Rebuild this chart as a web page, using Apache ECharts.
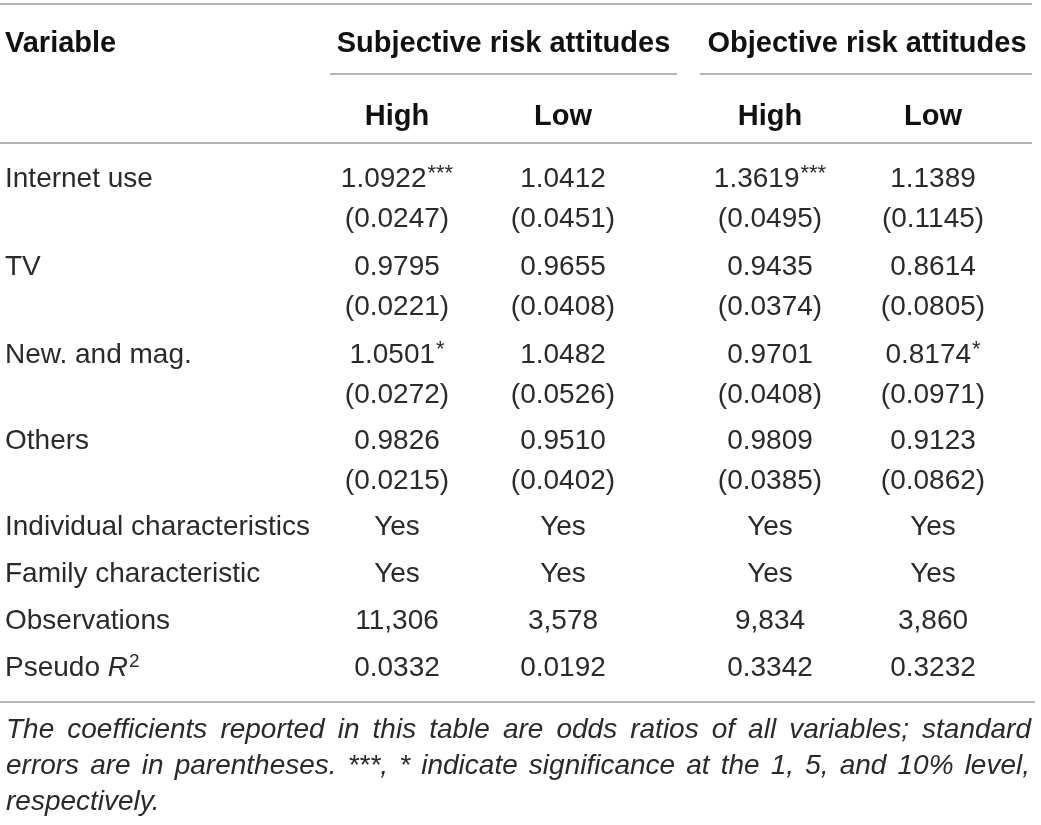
<!DOCTYPE html>
<html><head><meta charset="utf-8">
<script src="https://cdn.jsdelivr.net/npm/echarts@6/dist/echarts.min.js"></script>
<style>html,body{margin:0;padding:0;background:#fff}#c{width:1041px;height:825px}</style>
</head><body><div id="c"></div>
<script>
// ---------------- DATA ----------------
const headerVariable = 'Variable';
const groupTitles = ['Subjective risk attitudes', 'Objective risk attitudes'];
const subHeaders = ['High', 'Low', 'High', 'Low'];
const variables = ['Internet use', 'TV', 'New. and mag.', 'Others'];
const subjHighCoef = [1.0922, 0.9795, 1.0501, 0.9826];
const subjHighSE = [0.0247, 0.0221, 0.0272, 0.0215];
const subjHighStars = ['***', '', '*', ''];
const subjLowCoef = [1.0412, 0.9655, 1.0482, 0.9510];
const subjLowSE = [0.0451, 0.0408, 0.0526, 0.0402];
const subjLowStars = ['', '', '', ''];
const objHighCoef = [1.3619, 0.9435, 0.9701, 0.9809];
const objHighSE = [0.0495, 0.0374, 0.0408, 0.0385];
const objHighStars = ['***', '', '', ''];
const objLowCoef = [1.1389, 0.8614, 0.8174, 0.9123];
const objLowSE = [0.1145, 0.0805, 0.0971, 0.0862];
const objLowStars = ['', '', '*', ''];
const controlNames = ['Individual characteristics', 'Family characteristic'];
const controlIncluded = ['Yes', 'Yes', 'Yes', 'Yes'];
const observationsLabel = 'Observations';
const observations = [11306, 3578, 9834, 3860];
const pseudoR2Label = 'Pseudo';
const pseudoR2 = [0.0332, 0.0192, 0.3342, 0.3232];
const footnoteLine1 = 'The coefficients reported in this table are odds ratios of all variables; standard';
const footnoteLine2 = 'errors are in parentheses. ***, * indicate significance at the 1, 5, and 10% level,';
const footnoteLine3 = 'respectively.';

// ---------------- LAYOUT ----------------
const W = 1041, H = 825;
const FONT = '"Liberation Sans", Arial, Helvetica, sans-serif';
const labelX = 5;
const colX = [397, 563, 770, 933];
const groupX = [503.5, 867];
const groupLineSpan = [[330, 677], [700, 1032]];
const yTitle = 44, ySub = 117;
const yVars = [179, 267, 355, 441];
const seGap = 40;
const yControls = [527, 574];
const yObs = 621, yR2 = 668;
const ruleColor = '#b4b4b4';
const rules = [
  [0, 1032, 4], [groupLineSpan[0][0], groupLineSpan[0][1], 74], [groupLineSpan[1][0], groupLineSpan[1][1], 74],
  [0, 1032, 143], [0, 1035, 702]
];
const footY = [730, 766, 802];
const footX0 = 6, footX1 = [1031, 1030];
const TEXT = '#2a2a2a', BOLD = '#111';

// ---------------- BUILD CELLS ----------------
const cells = [];
function add(x, y, text, align) { cells.push({ value: [x, y], text: text, label: { align: align || 'center' } }); }

add(labelX, yTitle, '{b|' + headerVariable + '}', 'left');
groupTitles.forEach((t, i) => add(groupX[i], yTitle, '{b|' + t + '}'));
subHeaders.forEach((t, i) => add(colX[i], ySub, '{b|' + t + '}'));

const coefs = [subjHighCoef, subjLowCoef, objHighCoef, objLowCoef];
const ses = [subjHighSE, subjLowSE, objHighSE, objLowSE];
const stars = [subjHighStars, subjLowStars, objHighStars, objLowStars];
variables.forEach((v, r) => {
  add(labelX, yVars[r], '{n|' + v + '}', 'left');
  for (let c = 0; c < 4; c++) {
    const s = stars[c][r];
    add(colX[c], yVars[r], '{n|' + coefs[c][r].toFixed(4) + '}' + (s ? '{sup|' + s + '}' : ''));
    add(colX[c], yVars[r] + seGap, '{n|(' + ses[c][r].toFixed(4) + ')}');
  }
});
controlNames.forEach((nm, r) => {
  add(labelX, yControls[r], '{n|' + nm + '}', 'left');
  controlIncluded.forEach((t, c) => add(colX[c], yControls[r], '{n|' + t + '}'));
});
add(labelX, yObs, '{n|' + observationsLabel + '}', 'left');
observations.forEach((v, c) => add(colX[c], yObs, '{n|' + v.toLocaleString('en-US') + '}'));
add(labelX, yR2, '{n|' + pseudoR2Label + ' }{it|R}{sup2|2}', 'left');
pseudoR2.forEach((v, c) => add(colX[c], yR2, '{n|' + v.toFixed(4) + '}'));

const rich = {
  n: { fontFamily: FONT, fontSize: 28, color: TEXT, lineHeight: 32 },
  b: { fontFamily: FONT, fontSize: 29, fontWeight: 'bold', color: BOLD, lineHeight: 32 },
  it: { fontFamily: FONT, fontSize: 28, fontStyle: 'italic', color: TEXT, lineHeight: 32 },
  sup: { fontFamily: FONT, fontSize: 22, color: TEXT, lineHeight: 32, verticalAlign: 'top', padding: [0, 0, 0, 1] },
  sup2: { fontFamily: FONT, fontSize: 19, color: TEXT, lineHeight: 32, verticalAlign: 'top', padding: [0, 0, 0, 1] }
};

// ---------------- FOOTNOTE (justified) ----------------
const ctx = document.createElement('canvas').getContext('2d');
const footFont = 'italic 28px ' + FONT;
ctx.font = footFont;
function textEl(w, x, y) {
  return { type: 'text', x: x, y: y, silent: true,
    style: { text: w, font: footFont, fill: TEXT, textAlign: 'left', textVerticalAlign: 'middle', verticalAlign: 'middle' } };
}
function justifyLine(str, y, x0, x1) {
  const words = str.split(' ');
  const widths = words.map(w => ctx.measureText(w).width);
  const total = widths.reduce((a, b) => a + b, 0);
  const gap = (x1 - x0 - total) / (words.length - 1);
  let x = x0;
  return words.map((w, i) => { const el = textEl(w, x, y); x += widths[i] + gap; return el; });
}
const graphics = [].concat(
  justifyLine(footnoteLine1, footY[0], footX0, footX1[0]),
  justifyLine(footnoteLine2, footY[1], footX0, footX1[1]),
  [textEl(footnoteLine3, footX0, footY[2])]
);

const chart = echarts.init(document.getElementById('c'), null, { renderer: 'canvas' });
chart.setOption({
  backgroundColor: '#fff',
  animation: false,
  grid: { left: 0, right: 0, top: 0, bottom: 0 },
  xAxis: { type: 'value', min: 0, max: W, show: false },
  yAxis: { type: 'value', min: 0, max: H, inverse: true, show: false },
  graphic: graphics,
  series: [{
    type: 'scatter',
    symbolSize: 0,
    silent: true,
    itemStyle: { opacity: 1 },
    data: cells,
    label: {
      show: true,
      position: [0, 0],
      verticalAlign: 'middle',
      formatter: p => p.data.text,
      rich: rich
    },
    markLine: {
      silent: true,
      symbol: ['none', 'none'],
      label: { show: false },
      lineStyle: { color: ruleColor, width: 2, type: 'solid', opacity: 1 },
      data: rules.map(r => [{ coord: [r[0], r[2]] }, { coord: [r[1], r[2]] }])
    }
  }]
});
</script></body></html>
